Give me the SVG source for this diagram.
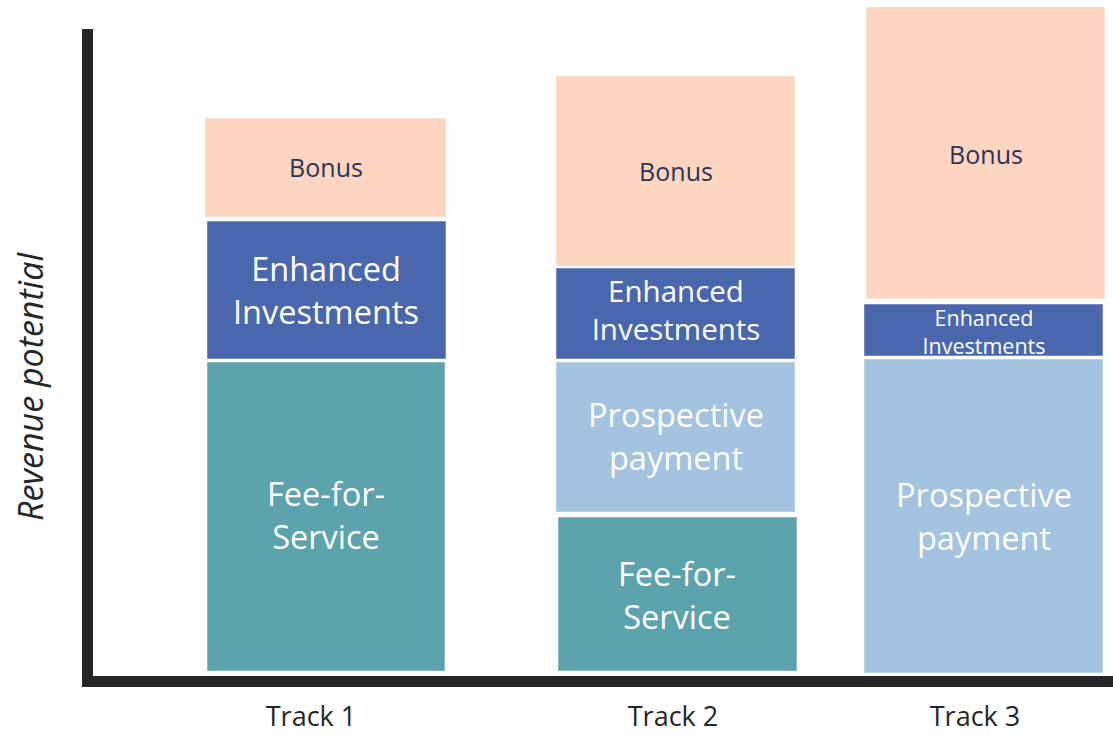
<svg xmlns="http://www.w3.org/2000/svg" width="1113" height="735" viewBox="0 0 1113 735">
<style>
.bonus{fill:#FDD5C0}
.enh{fill:#4A67AE}
.ffs{fill:#5CA3AE}
.pro{fill:#A3C3E1}
rect.seg{stroke:#ffffff;stroke-opacity:0.5;stroke-width:1}
text{font-family:"Open Sans","Noto Sans","Liberation Sans",sans-serif;text-anchor:middle}
.wt{fill:#ffffff;font-size:32.5px}
.wm{fill:#ffffff;font-size:29.5px}
.bt{fill:#2B3556;font-size:25px}
.sm{fill:#ffffff;font-size:21.5px}
.tk{fill:#262626;font-size:27px}
</style>
<rect width="1113" height="735" fill="#ffffff"/>
<g id="axes">
<rect x="82" y="29" width="11" height="658" fill="#262626"/>
<rect x="82" y="676" width="1031" height="11" fill="#262626"/>
<text transform="translate(43,387) rotate(-90)" style="font-size:34px;font-style:italic;fill:#262626">Revenue potential</text>
</g>
<g id="track1">
<rect class="seg bonus" x="205" y="118" width="241" height="99"/>
<text class="bt" x="326" y="177">Bonus</text>
<rect class="seg enh" x="207" y="221" width="239" height="138"/>
<text class="wt" x="326" y="281">Enhanced</text>
<text class="wt" x="326" y="324">Investments</text>
<rect class="seg ffs" x="207" y="362" width="238" height="309"/>
<text class="wt" x="326" y="506">Fee-for-</text>
<text class="wt" x="326" y="549">Service</text>
<text class="tk" x="311" y="726">Track 1</text>
</g>
<g id="track2">
<rect class="seg bonus" x="556" y="76" width="239" height="190"/>
<text class="bt" x="676" y="181">Bonus</text>
<rect class="seg enh" x="556" y="268" width="239" height="91"/>
<text class="wm" x="676" y="302">Enhanced</text>
<text class="wm" x="676" y="340">Investments</text>
<rect class="seg pro" x="556" y="362" width="239" height="150"/>
<text class="wt" x="676" y="427">Prospective</text>
<text class="wt" x="676" y="470">payment</text>
<rect class="seg ffs" x="558" y="517" width="239" height="154"/>
<text class="wt" x="677" y="586">Fee-for-</text>
<text class="wt" x="677" y="629">Service</text>
<text class="tk" x="673" y="726">Track 2</text>
</g>
<g id="track3">
<rect class="seg bonus" x="866" y="7" width="239" height="292"/>
<text class="bt" x="986" y="164">Bonus</text>
<rect class="seg enh" x="864" y="304" width="239" height="52"/>
<text class="sm" x="984" y="326">Enhanced</text>
<text class="sm" x="984" y="354">Investments</text>
<rect class="seg pro" x="864" y="359" width="239" height="314"/>
<text class="wt" x="984" y="507">Prospective</text>
<text class="wt" x="984" y="550">payment</text>
<text class="tk" x="975" y="726">Track 3</text>
</g>
<g id="connectors"></g>
</svg>
